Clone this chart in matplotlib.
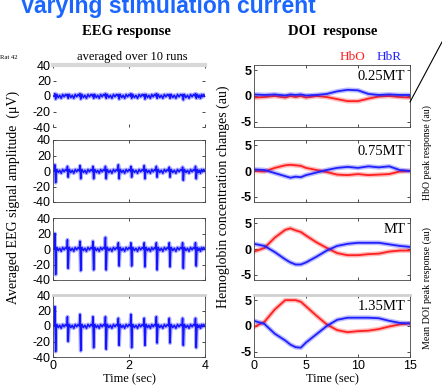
"""Varying stimulation current: EEG and DOI responses (Rat 42)"""

import matplotlib
matplotlib.use("Agg")
import matplotlib.pyplot as plt

plt.rcParams["axes.unicode_minus"] = False

SERIF = "Liberation Serif"
SANS = "Liberation Sans"

# EEG: spike times (s) and per-spike peak / trough (uV) for each current level
SPIKE_TIMES = [0.05, 0.38, 0.71, 1.05, 1.38, 1.72, 2.05, 2.40, 2.72, 3.06, 3.41, 3.75]
EEG_POS = [
    [3, 2, 3, 2, 3, 2, 3, 2, 3, 2, 2, 3],
    [8, 6, 7, 6, 6, 8, 6, 7, 6, 5, 5, 6],
    [20, 12, 10, 10, 15, 8, 8, 8, 8, 8, 8, 8],
    [25, 12, 15, 12, 12, 10, 15, 10, 12, 10, 10, 10],
]
EEG_NEG = [
    [-4, -3, -4, -3, -3, -4, -3, -4, -3, -3, -5, -3],
    [-15, -8, -10, -10, -10, -10, -8, -10, -8, -8, -12, -10],
    [-33, -25, -28, -27, -27, -22, -22, -23, -27, -23, -25, -22],
    [-33, -20, -32, -28, -30, -25, -28, -25, -22, -22, -25, -28],
]
# small background wiggle between spikes (uV)
WIGGLE = [2, -2, 1, -3, 2, -1, 2]

# DOI: time knots (s) and HbO / HbR curves (au)
DOI_T = [0, 1, 2, 3, 3.5, 4, 4.5, 5, 6, 7, 8, 9, 10, 11, 12, 13, 14, 15]
HBO = [
    [-0.3, -0.2, 0.0, -0.3, 0.0, -0.2, 0.0, -0.3, 0.0, -0.2, -0.6, -1.0, -1.0, -0.5, -0.1, 0.0, -0.2, -0.3],
    [0.0, -0.1, 0.6, 1.1, 1.2, 1.1, 1.0, 0.6, 0.2, -0.2, -0.7, -0.8, -0.6, -0.8, -0.7, -0.6, -0.1, 0.0],
    [-0.5, 0.2, 2.2, 3.7, 4.0, 3.6, 3.3, 2.6, 1.3, 0.2, -0.8, -1.2, -1.2, -1.0, -0.9, -0.5, -0.3, -0.3],
    [-0.2, 0.8, 3.2, 5.0, 5.0, 5.0, 4.7, 3.8, 2.0, 0.3, -0.8, -1.2, -1.0, -0.9, -0.6, -0.1, 0.3, 0.5],
]
HBR = [
    [0.3, 0.2, 0.3, 0.1, 0.3, 0.2, 0.3, 0.1, 0.2, 0.4, 0.9, 1.2, 1.1, 0.4, 0.2, 0.3, 0.2, 0.2],
    [0.3, 0.2, -0.4, -1.0, -1.3, -1.1, -1.2, -0.8, -0.3, 0.2, 0.6, 0.8, 0.6, 0.9, 0.7, 0.9, 0.2, 0.0],
    [1.0, 0.6, -0.6, -2.0, -2.6, -3.0, -3.0, -2.6, -1.5, -0.3, 0.6, 1.0, 1.2, 1.2, 1.2, 0.9, 0.6, 0.4],
    [1.0, 0.4, -1.5, -2.8, -3.6, -4.1, -4.2, -3.2, -1.6, 0.0, 1.2, 1.6, 1.6, 1.6, 1.5, 1.0, 0.6, 0.5],
]
CURRENTS = ["0.25MT", "0.75MT", "MT", "1.35MT"]

EEG_BLUE = "#1414ff"
HBO_RED = "#ff2020"
HBR_BLUE = "#2020ff"


def eeg_trace(pos, neg):
    """Build an EEG trace from the spike table."""
    xs, ys = [0.0], [0.0]
    for i, t in enumerate(SPIKE_TIMES):
        xs += [t - 0.015, t, t + 0.02, t + 0.04]
        ys += [0.0, pos[i], neg[i], 2.0]
        nxt = SPIKE_TIMES[i + 1] if i + 1 < len(SPIKE_TIMES) else 4.0
        step = (nxt - t - 0.06) / len(WIGGLE)
        for k, w in enumerate(WIGGLE):
            xs.append(t + 0.05 + k * step)
            ys.append(w)
    xs.append(4.0)
    ys.append(0.0)
    return xs, ys


fig = plt.figure(figsize=(4.42, 3.87), dpi=100)

fig.text(168 / 442, 1 - 12.5 / 387, "Varying stimulation current", color="#1a66ff",
         fontsize=16.5, fontweight="bold", family=SANS, ha="center", va="baseline")
fig.text(126 / 442, 1 - 35 / 387, "EEG response", fontsize=10.5, fontweight="bold",
         family=SERIF, ha="center", va="baseline")
fig.text(333 / 442, 1 - 35 / 387, "DOI  response", fontsize=10.5, fontweight="bold",
         family=SERIF, ha="center", va="baseline")
fig.text(0.0, 1 - 59 / 387, "Rat 42", fontsize=4.8, family=SERIF, va="baseline")
fig.text(132 / 442, 1 - 60 / 387, "averaged over 10 runs", fontsize=9, family=SERIF,
         ha="center", va="baseline")
fig.text(352 / 442, 1 - 60 / 387, "HbO", fontsize=9.5, color=HBO_RED, family=SERIF,
         ha="center", va="baseline")
fig.text(389 / 442, 1 - 60 / 387, "HbR", fontsize=9.5, color=HBR_BLUE, family=SERIF,
         ha="center", va="baseline")

fig.text(13 / 442, 1 - 197 / 387, "Averaged EEG signal amplitude  (\u03bcV)", rotation=90,
         fontsize=10, family=SERIF, ha="center", va="center")
fig.text(223 / 442, 1 - 197 / 387, "Hemoglobin concentration changes (au)", rotation=90,
         fontsize=10, family=SERIF, ha="center", va="center")
fig.text(427 / 442, 1 - 153 / 387, "HbO peak response (au)", rotation=90,
         fontsize=7, family=SERIF, ha="center", va="center")
fig.text(427 / 442, 1 - 288 / 387, "Mean DOI peak response (au)", rotation=90,
         fontsize=7.3, family=SERIF, ha="center", va="center")

row_bottoms = [260, 185, 107, 30]
row_h = 62 / 387

for r in range(4):
    bottom = row_bottoms[r] / 387
    ax = fig.add_axes([53 / 442, bottom, 152 / 442, row_h])
    xs, ys = eeg_trace(EEG_POS[r], EEG_NEG[r])
    ax.plot(xs, ys, color=EEG_BLUE, lw=2.8, alpha=0.35)
    ax.plot(xs, ys, color=EEG_BLUE, lw=1.1)
    ax.set_xlim(0, 4)
    ax.set_ylim(-40, 40)
    ax.set_yticks([-40, -20, 0, 20, 40])
    ax.set_xticks([0, 2, 4])
    ax.tick_params(direction="in", length=2, width=0.5, pad=1.5, top=True, right=True)
    ax.tick_params(axis="y", labelsize=9)
    ax.tick_params(axis="x", labelsize=9, pad=2.5)
    for lab in ax.get_yticklabels() + ax.get_xticklabels():
        lab.set_family(SANS)
    if r < 3:
        ax.set_xticklabels([])
    for s in ax.spines.values():
        s.set_linewidth(0.6)
        s.set_color("#444444")
    if r == 0:
        for side in ["left", "right", "bottom"]:
            ax.spines[side].set_visible(False)
        ax.spines["top"].set_color("#d8d8d8")
        ax.spines["top"].set_linewidth(3)
    if r == 3:
        ax.spines["top"].set_color("#d0d0d0")
        ax.spines["top"].set_linewidth(2)
        ax.set_xlabel("Time (sec)", fontsize=9, family=SERIF, labelpad=0.5)

    ax2 = fig.add_axes([254 / 442, bottom, 156 / 442, row_h])
    ax2.plot(DOI_T, HBO[r], color=HBO_RED, lw=3.4, alpha=0.3)
    ax2.plot(DOI_T, HBO[r], color=HBO_RED, lw=1.3)
    ax2.plot(DOI_T, HBR[r], color=HBR_BLUE, lw=3.4, alpha=0.3)
    ax2.plot(DOI_T, HBR[r], color=HBR_BLUE, lw=1.3)
    ax2.set_xlim(0, 15)
    ax2.set_ylim(-6, 6)
    ax2.set_yticks([-5, 0, 5])
    ax2.set_xticks([0, 5, 10, 15])
    ax2.tick_params(direction="in", length=2, width=0.5, pad=1.5, top=True, right=True)
    ax2.tick_params(axis="y", labelsize=9)
    ax2.tick_params(axis="x", labelsize=9, pad=2.5)
    for lab in ax2.get_yticklabels():
        lab.set_family(SANS)
        lab.set_fontweight("bold")
    for lab in ax2.get_xticklabels():
        lab.set_family(SANS)
    if r < 3:
        ax2.set_xticklabels([])
    for s in ax2.spines.values():
        s.set_linewidth(0.6)
        s.set_color("#444444")
    if r == 3:
        ax2.spines["top"].set_color("#d0d0d0")
        ax2.spines["top"].set_linewidth(2)
        ax2.set_xlabel("Time (sec)", fontsize=9, family=SERIF, labelpad=0.5)
    ax2.text(0.97, 0.82, CURRENTS[r], transform=ax2.transAxes, ha="right",
             va="center", fontsize=10.5, family=SERIF)

# pointer line toward the cut-off panel on the right
fig.add_artist(plt.Line2D([410 / 442, 1.0], [1 - 102 / 387, 1 - 42 / 387],
                          color="black", lw=0.8, transform=fig.transFigure))

fig.savefig("out.png", dpi=100)
